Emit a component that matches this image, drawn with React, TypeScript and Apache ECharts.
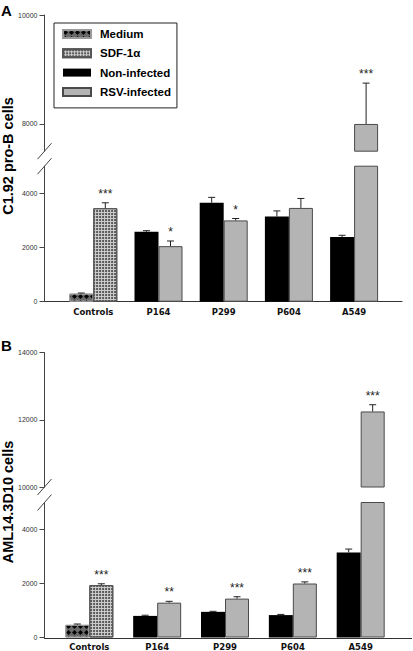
import React, { useEffect, useRef } from 'react';
import * as echarts from 'echarts';

const categories = ['Controls', 'P164', 'P299', 'P604', 'A549'];
const seriesNames = ['Medium', 'SDF-1α', 'Non-infected', 'RSV-infected'];

// Panel A — C1.92 pro-B cells
const aLeft = [300, 2580, 3650, 3140, 2390];
const aLeftErr = [20, 40, 200, 210, 60];
const aRight = [3450, 2050, 3000, 3460, 8000];
const aRightErr = [200, 190, 70, 350, 750];
const aStars = ['***', '*', '*', '', '***'];
const aLowTicks = [0, 2000, 4000];
const aHighTicks = [8000, 10000];

// Panel B — AML14.3D10 cells
const bLeft = [470, 800, 950, 830, 3150];
const bLeftErr = [30, 25, 20, 25, 125];
const bRight = [1940, 1290, 1440, 2000, 12250];
const bRightErr = [50, 50, 70, 60, 200];
const bStars = ['***', '**', '***', '***', '***'];
const bLowTicks = [0, 2000, 4000];
const bHighTicks = [10000, 12000, 14000];

const W = 413;
const H = 651;

const panels = [
  {
    letter: 'A', title: 'C1.92 pro-B cells', titleY: 156, letterY: 10,
    left: aLeft, leftErr: aLeftErr, right: aRight, rightErr: aRightErr, stars: aStars,
    low: { min: 0, max: 5000, top: 166.2, bottom: 301.7, ticks: aLowTicks },
    high: { min: 7500, max: 10000, top: 15, bottom: 151.2, ticks: aHighTicks },
    bandL: 60.7, bandR: 386.7, axisX: 44.5, axisEnd: 402, labelMargin: 6,
  },
  {
    letter: 'B', title: 'AML14.3D10 cells', titleY: 502, letterY: 345.5,
    left: bLeft, leftErr: bLeftErr, right: bRight, rightErr: bRightErr, stars: bStars,
    low: { min: 0, max: 5000, top: 502.5, bottom: 638.3, ticks: bLowTicks },
    high: { min: 10000, max: 14000, top: 352.7, bottom: 487, ticks: bHighTicks },
    bandL: 55.4, bandR: 394.6, axisX: 44.5, axisEnd: 411.7, labelMargin: 4.5,
  },
];

const styles: Record<string, any> = {
  'Medium': {
    color: '#6a6a6a', borderColor: '#9a9a9a', borderWidth: 1,
    decal: { symbol: 'diamond', symbolSize: 1, dashArrayX: [5, 1], dashArrayY: [5, 1], color: '#050505' },
  },
  'SDF-1α': {
    color: '#cfcfcf', borderColor: '#555', borderWidth: 1,
    decal: { symbol: 'circle', symbolSize: 1, dashArrayX: [2, 1], dashArrayY: [2, 1], color: '#4a4a4a' },
  },
  'Non-infected': { color: '#000', borderColor: '#000', borderWidth: 0 },
  'RSV-infected': { color: '#b4b4b4', borderColor: '#4a4a4a', borderWidth: 1 },
};

const axisColor = '#444';

function buildOption() {
  const grid: any[] = [];
  const xAxis: any[] = [];
  const yAxis: any[] = [];
  const series: any[] = [];
  const graphic: any[] = [];

  panels.forEach((p) => {
    (['low', 'high'] as const).forEach((segKey) => {
      const seg = p[segKey];
      const gi = grid.length;
      grid.push({ left: p.bandL, right: W - p.bandR, top: seg.top, height: seg.bottom - seg.top });
      if (segKey === 'low') {
        xAxis.push({
          type: 'category', gridIndex: gi, data: categories,
          axisLine: { show: false }, axisTick: { show: false },
          axisLabel: { fontFamily: 'DejaVu Sans', fontWeight: 'bold', fontSize: 8.5, color: '#111', margin: p.labelMargin },
        });
      } else {
        xAxis.push({ type: 'category', gridIndex: gi, data: categories, show: false });
      }
      yAxis.push({
        type: 'value', gridIndex: gi, min: seg.min, max: seg.max, offset: p.bandL - p.axisX,
        axisLine: { show: true, lineStyle: { color: axisColor, width: 1 } },
        axisTick: { show: true, length: 5, customValues: seg.ticks, lineStyle: { color: axisColor } },
        axisLabel: {
          customValues: seg.ticks, fontFamily: 'Liberation Sans', fontSize: 7, color: '#333', margin: 7,
          formatter: (v: number) => String(v),
        },
        splitLine: { show: false },
      });
      const keep = (v: number | null) => {
        if (v == null) return null;
        if (segKey === 'high') return v > seg.min ? v : null;
        return v;
      };
      const medium = p.left.map((v, i) => (i === 0 ? keep(v) : null));
      const nonInf = p.left.map((v, i) => (i === 0 ? null : keep(v)));
      const sdf = p.right.map((v, i) => (i === 0 ? keep(v) : null));
      const rsv = p.right.map((v, i) => (i === 0 ? null : keep(v)));
      const dataByName: Record<string, any[]> = {
        'Medium': medium, 'SDF-1α': sdf, 'Non-infected': nonInf, 'RSV-infected': rsv,
      };
      seriesNames.forEach((name) => {
        const side = name === 'Medium' || name === 'Non-infected' ? 'L' : 'R';
        series.push({
          type: 'bar', name, xAxisIndex: gi, yAxisIndex: gi,
          stack: side + gi, barWidth: 24, barGap: '0%',
          data: dataByName[name], itemStyle: styles[name],
          clip: true,
        });
      });
      // error bars + stars
      const items: any[] = [];
      categories.forEach((_, i) => {
        [
          { side: -1, val: p.left[i], err: p.leftErr[i], star: '' },
          { side: 1, val: p.right[i], err: p.rightErr[i], star: p.stars[i] },
        ].forEach((it) => {
          const inSeg = segKey === 'low' ? it.val <= seg.max : it.val >= seg.min;
          if (inSeg) items.push({ cat: i, side: it.side, val: it.val, top: it.val + it.err, star: it.star });
        });
      });
      series.push({
        type: 'custom', xAxisIndex: gi, yAxisIndex: gi, z: 5, silent: true,
        data: items.map((it) => [it.cat, it.val, it.top]),
        renderItem: (params: any, api: any) => {
          const it = items[params.dataIndex];
          const base = api.coord([api.value(0), api.value(1)]);
          const top = api.coord([api.value(0), api.value(2)]);
          const x = base[0] + it.side * 12;
          const children: any[] = [
            { type: 'line', shape: { x1: x, y1: base[1], x2: x, y2: top[1] }, style: { stroke: '#222', lineWidth: 1 } },
            { type: 'line', shape: { x1: x - 3.5, y1: top[1], x2: x + 3.5, y2: top[1] }, style: { stroke: '#222', lineWidth: 1 } },
          ];
          if (it.star) {
            children.push({
              type: 'text', x, y: top[1] - 9,
              style: { text: it.star, align: 'center', verticalAlign: 'middle', fontSize: 12, fontFamily: 'Liberation Sans', fill: '#222' },
            });
          }
          return { type: 'group', children };
        },
      });
    });

    // frame grid for the full-length x-axis line
    const fi = grid.length;
    grid.push({ left: p.axisX, right: W - p.axisEnd, top: p.low.top, height: p.low.bottom - p.low.top });
    xAxis.push({
      type: 'value', gridIndex: fi, min: 0, max: 1,
      axisLine: { show: true, lineStyle: { color: '#333', width: 1 } },
      axisTick: { show: false }, axisLabel: { show: false }, splitLine: { show: false },
    });
    yAxis.push({ type: 'value', gridIndex: fi, min: 0, max: 1, show: false });

    // break marks
    [p.high.bottom, p.low.top].forEach((y) => {
      graphic.push({
        type: 'line', silent: true,
        shape: { x1: p.axisX - 7, y1: y + 8, x2: p.axisX + 7, y2: y - 8 },
        style: { stroke: axisColor, lineWidth: 1 },
      });
    });
    // panel letter
    graphic.push({
      type: 'text', x: 1, y: p.letterY,
      style: { text: p.letter, fontFamily: 'Liberation Sans', fontWeight: 'bold', fontSize: 15, fill: '#000', align: 'left', verticalAlign: 'middle' },
    });
    // y title
    graphic.push({
      type: 'text', x: 7.5, y: p.titleY, rotation: Math.PI / 2,
      style: { text: p.title, fontFamily: 'Liberation Sans', fontWeight: 'bold', fontSize: 14.5, fill: '#000', align: 'center', verticalAlign: 'middle' },
    });
  });

  return {
    animation: false,
    grid, xAxis, yAxis, series, graphic,
    legend: {
      orient: 'vertical', left: 54, top: 23,
      borderColor: '#222', borderWidth: 1, padding: [4.5, 6, 9.5, 8],
      itemWidth: 28, itemHeight: 8, itemGap: 6.3, icon: 'rect',
      textStyle: { fontFamily: 'Liberation Sans', fontWeight: 'bold', fontSize: 11.5, color: '#000', lineHeight: 13, padding: [0, 0, 0, 4] },
      data: seriesNames.map((n) => ({ name: n })),
    },
  };
}

export default function App() {
  const ref = useRef<HTMLDivElement>(null);
  useEffect(() => {
    document.body.style.margin = '0';
    const chart = echarts.init(ref.current!, null, { renderer: 'svg' });
    chart.setOption(buildOption() as any);
    return () => chart.dispose();
  }, []);
  return <div ref={ref} style={{ width: W, height: H, background: '#fff' }} />;
}
